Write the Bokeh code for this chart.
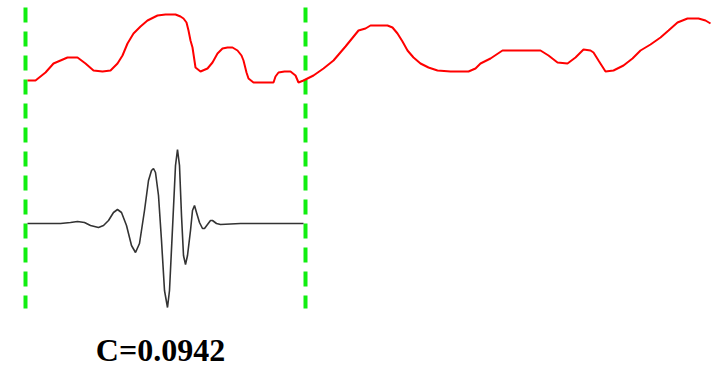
from bokeh.plotting import figure
from bokeh.models import Range1d
from bokeh.embed import file_html
from bokeh.resources import INLINE
from bokeh.core.properties import value

# Signal (red) sampled points
sig_x = [27, 35, 45, 53, 60, 67, 77, 85, 93, 102, 110, 117, 122, 127, 133, 140, 147, 157, 165, 175, 180, 183, 186, 188, 190, 192, 195, 200, 207, 212, 217, 222, 227, 232, 237, 241, 243, 246, 248, 253, 263, 273, 275, 278, 284, 290, 295, 298, 303, 313, 323, 333, 345, 358, 365, 370, 378, 387, 392, 397, 402, 407, 413, 420, 428, 437, 450, 468, 475, 480, 490, 502, 520, 540, 548, 557, 567, 575, 583, 590, 593, 598, 605, 613, 623, 632, 640, 650, 660, 668, 677, 687, 698, 705, 710]
sig_y = [80, 80, 72, 63, 60, 57, 57, 63, 70, 71, 70, 63, 55, 43, 33, 26, 20, 15, 14, 14, 16, 18, 22, 30, 40, 47, 67, 71, 68, 62, 53, 48, 47, 47, 50, 55, 60, 72, 78, 82, 82, 82, 76, 72, 71, 71, 75, 82, 80, 75, 68, 60, 46, 30, 28, 25, 25, 25, 27, 33, 41, 50, 57, 63, 67, 70, 71, 71, 68, 63, 58, 50, 50, 50, 55, 62, 63, 57, 49, 50, 52, 60, 71, 70, 65, 58, 50, 44, 37, 30, 22, 18, 18, 20, 23]

# Wavelet (black) sampled points
wav_x = [27, 60, 70, 77, 84, 90, 98, 103, 108, 113, 117, 121, 126, 131, 135, 139, 144, 148, 151, 153, 155, 158, 161, 164, 167, 169, 172, 175, 177, 179, 181, 183, 185, 187, 190, 192, 194, 196, 199, 202, 204, 207, 210, 212, 216, 220, 240, 303]
wav_y = [223, 223, 222, 221, 222, 225, 227, 225, 220, 212, 209, 212, 225, 245, 252, 243, 210, 180, 170, 168, 172, 195, 240, 290, 307, 290, 228, 165, 149, 165, 215, 255, 264, 255, 230, 210, 205, 212, 222, 228, 228, 224, 220, 220, 223, 224, 223, 223]

# Window markers
win_x = [25, 305]
win_top = 7
win_bottom = 308

label = "C=0.0942"

p = figure(width=715, height=366, output_backend="svg", toolbar_location=None,
           x_range=Range1d(0, 715), y_range=Range1d(366, 0),
           min_border=0, outline_line_color=None)
p.axis.visible = False
p.grid.visible = False

for wx in win_x:
    p.line([wx, wx], [win_top, win_bottom], line_color="#11ee11", line_width=4, line_dash="15 9")

p.line(sig_x, sig_y, line_color="#ff0000", line_width=2)
p.line(wav_x, wav_y, line_color="#333333", line_width=1.6)

p.text(x=[160], y=[349], text=[label], text_font=value("Liberation Serif"),
       text_font_style="bold", text_font_size="32px", text_align="center",
       text_baseline="middle", text_color="#000000")

open("out.html", "w").write(file_html(p, INLINE))
